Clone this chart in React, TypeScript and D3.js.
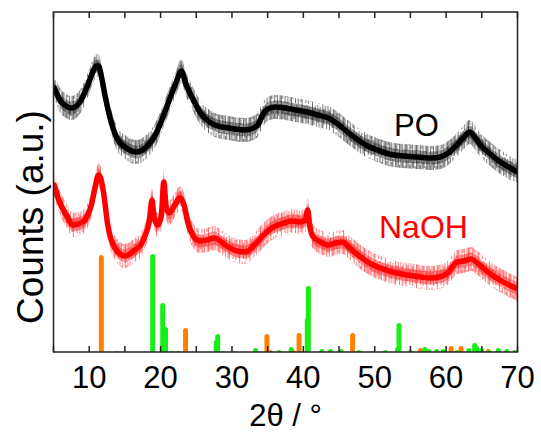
import React from "react";
import * as d3 from "d3";

const W = 541;
const H = 432;

const xTicks = [10, 20, 30, 40, 50, 60, 70];
const xMinorTicks = [5, 10, 15, 20, 25, 30, 35, 40, 45, 50, 55, 60, 65, 70];

const poTheta = [5, 5.9, 7, 7.5, 8.7, 9.8, 10.5, 11, 11.3, 11.7, 12.2, 12.9, 13.8, 15.2, 16.6, 18, 19.4, 20.8, 22.2, 22.9, 23.6, 24.6, 25.5, 26.5, 27.6, 29.5, 31.9, 33, 33.7, 34.3, 35, 36.1, 37.5, 38.9, 40.5, 42, 43.5, 45, 46.2, 47.5, 49, 50, 52, 54, 56, 58, 59.2, 60.3, 61.5, 62.5, 63.3, 64, 64.8, 66, 67.2, 68.5, 70];
const poCounts = [266, 252, 245, 244, 250, 267, 280, 286, 286, 276, 257, 235, 215, 204, 200, 205, 219, 244, 270, 281, 267, 252, 240, 232, 227, 224, 222, 224, 228, 237, 243, 245, 244, 242, 240, 237, 234, 227, 220, 213, 206, 203, 198, 196, 195, 194, 195, 199, 207, 215, 220, 215, 207, 199, 192, 186, 180];

const naohTheta = [5, 5.9, 6.8, 7.7, 9.1, 9.8, 10.3, 10.9, 11.3, 11.6, 12, 12.6, 13.6, 15, 16.4, 17.3, 17.8, 18.4, 18.8, 19.1, 19.6, 20.1, 20.45, 20.8, 21.2, 22, 22.7, 23.3, 23.8, 24.6, 25.5, 26.5, 27.6, 28.5, 29.5, 30.7, 31.9, 33, 34.3, 35.2, 36.1, 37.3, 38.4, 39.5, 40.3, 40.6, 40.9, 41.3, 42.4, 43.5, 44.5, 45.5, 46.5, 48, 49.5, 50.8, 52.5, 54.6, 56.5, 57.8, 59, 60.2, 61, 61.5, 62.5, 63.5, 64.2, 65.2, 66.2, 67.5, 68.8, 70];
const naohCounts = [169, 149, 137, 127, 130, 137, 147, 167, 177, 174, 160, 127, 104, 96, 102, 108, 116, 130, 152, 134, 127, 136, 170, 144, 139, 147, 154, 147, 130, 116, 111, 112, 114, 110, 105, 101, 100, 106, 116, 122, 126, 129, 131, 130, 132, 142, 126, 116, 110, 107, 109, 110, 104, 95, 88, 84, 80, 77, 75, 74, 75, 79, 86, 90, 91, 93, 90, 84, 78, 72, 67, 63];

const refOrangeTheta = [11.7, 23.5, 34.9, 35.4, 38.6, 39.4, 46.9, 56.4, 60.7, 62.1, 65.9];
const refOrangeInt = [97, 24, 18, 2, 2, 19, 19, 4, 6, 6, 3];

const refGreenTheta = [13.9, 18.9, 20.3, 20.7, 21.5, 22.5, 27.8, 28.0, 28.8, 30.2, 33.3, 36.6, 38.3, 40.55, 40.7, 42.6, 43.8, 45.3, 47.8, 49.7, 51.5, 53.2, 53.4, 55, 57.0, 57.6, 58.7, 59.6, 61.5, 63.2, 64.0, 64.3, 65, 66, 67.3, 68.5, 69.6];
const refGreenInt = [1, 98, 49, 25, 1, 1, 12, 18, 1, 1, 4, 2, 5, 34, 66, 3, 3, 3, 2, 1, 2, 5, 29, 2, 5, 3, 3, 3, 2, 4, 9, 6, 4, 2, 4, 3, 2];

const M = { left: 53.5, right: 517.5, top: 12, bottom: 352 };
const FONT = "Arial, 'Liberation Sans', Helvetica, sans-serif";

function NoisePattern({ id, color }: { id: string; color: string }) {
  // texture tile: thin vertical strokes of uneven length
  const strokes = [
    [0, 0, 26],
    [1.3, 5, 21],
    [2.6, 2, 15],
    [3.9, 9, 25],
    [5.2, 1, 19],
    [6.5, 6, 26],
    [7.8, 3, 12],
    [9.1, 10, 24],
  ];
  return (
    <pattern id={id} width="10.4" height="26" patternUnits="userSpaceOnUse">
      {strokes.map(([sx, y0, y1], i) => (
        <rect key={i} x={sx} y={y0} width={0.9} height={y1 - y0} fill={color} />
      ))}
    </pattern>
  );
}

export default function App() {
  const x = d3.scaleLinear().domain([5, 70]).range([M.left, M.right]);
  const y = d3.scaleLinear().domain([0, 340]).range([M.bottom, M.top]);

  const band = (th: number[], v: number[], half: number) =>
    d3
      .area<number>()
      .x((i) => x(th[i]))
      .y0((i) => y(v[i] - half))
      .y1((i) => y(v[i] + half))
      .curve(d3.curveMonotoneX)(d3.range(th.length)) || "";
  const line = (th: number[], v: number[]) =>
    d3
      .line<number>()
      .x((i) => x(th[i]))
      .y((i) => y(v[i]))
      .curve(d3.curveMonotoneX)(d3.range(th.length)) || "";

  const barW = 5;
  const bars = (th: number[], iv: number[], color: string) =>
    th.map((t, i) => (
      <rect
        key={color + i}
        x={x(t) - barW / 2}
        y={y(iv[i])}
        width={barW}
        height={y(0) - y(iv[i]) + 4}
        rx={2.5}
        fill={color}
      />
    ));

  return (
    <svg
      width={W}
      height={H}
      style={{ position: "absolute", left: 0, top: 0, background: "#fff" }}
      fontFamily={FONT}
    >
      <defs>
        <clipPath id="plot">
          <rect x={M.left} y={M.top} width={M.right - M.left} height={M.bottom - M.top} />
        </clipPath>
        <NoisePattern id="noiseK" color="#000" />
        <NoisePattern id="noiseR" color="#ff0000" />
      </defs>
      <rect width={W} height={H} fill="#fff" />

      <g clipPath="url(#plot)">
        {bars(refOrangeTheta, refOrangeInt, "#ff8000")}
        {bars(refGreenTheta, refGreenInt, "#16ee16")}

        <path d={band(naohTheta, naohCounts, 12)} fill="url(#noiseR)" opacity={0.6} />
        <path d={band(naohTheta, naohCounts, 6.5)} fill="#ff0000" opacity={0.4} />
        <path d={line(naohTheta, naohCounts)} fill="none" stroke="#ff0000" strokeWidth={5.5} />

        <path d={band(poTheta, poCounts, 12)} fill="url(#noiseK)" opacity={0.6} />
        <path d={band(poTheta, poCounts, 6.5)} fill="#000" opacity={0.4} />
        <path d={line(poTheta, poCounts)} fill="none" stroke="#000" strokeWidth={5.5} />
      </g>

      <rect
        x={M.left}
        y={M.top}
        width={M.right - M.left}
        height={M.bottom - M.top}
        fill="none"
        stroke="#222"
        strokeWidth={1.5}
      />
      {xMinorTicks.map((t) => (
        <g key={"t" + t}>
          <line x1={x(t)} x2={x(t)} y1={M.bottom} y2={M.bottom - 6} stroke="#222" strokeWidth={1.5} />
          <line x1={x(t)} x2={x(t)} y1={M.top} y2={M.top + 6} stroke="#222" strokeWidth={1.5} />
        </g>
      ))}
      {xTicks.map((t) => (
        <text key={"l" + t} x={x(t)} y={388} fontSize={31} textAnchor="middle" fill="#000">
          {t}
        </text>
      ))}
      <text x={(M.left + M.right) / 2} y={426} fontSize={31} textAnchor="middle" fill="#000">
        2θ / °
      </text>
      <text
        transform={`translate(43, 217) rotate(-90)`}
        fontSize={37}
        textAnchor="middle"
        fill="#000"
      >
        Counts (a.u.)
      </text>
      <text x={394} y={136} fontSize={31} fill="#000">
        PO
      </text>
      <text x={379} y={238} fontSize={32} fill="#ff0000">
        NaOH
      </text>
    </svg>
  );
}
